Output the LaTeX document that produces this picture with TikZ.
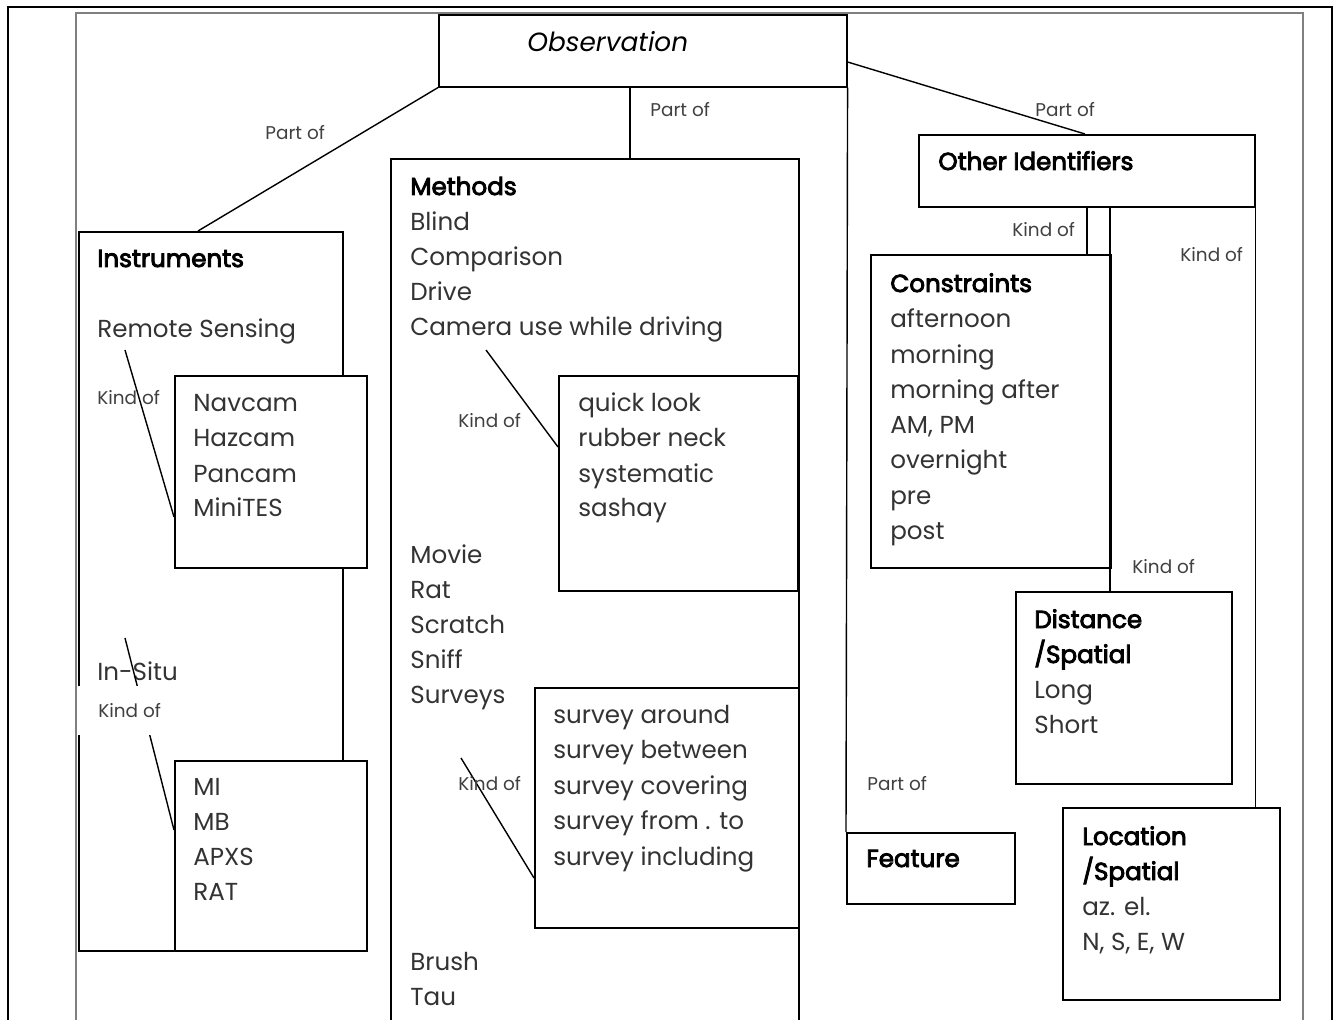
\documentclass[tikz,border=0pt]{standalone}
\usepackage{fontspec}
\setmainfont{Poppins}
\newfontfamily\headfont[FakeBold=3.5]{Poppins}
\usetikzlibrary{calc}

\tikzset{
  box/.style 2 args={draw, line width=0.9pt, fill=white, anchor=north west, inner sep=0pt,
    minimum width=#1*0.02cm, minimum height=#2*0.02cm},
  item/.style={anchor=base west, inner sep=0pt, text=black!80, font=\fontsize{14}{17}\selectfont},
  head/.style={item, text=black, font=\fontsize{14}{17}\selectfont\headfont},
  rel/.style={anchor=base west, inner sep=0pt, text=black!75, font=\fontsize{10.5}{12}\selectfont},
  link/.style={line width=0.8pt},
}

\begin{document}
\begin{tikzpicture}[x=0.02cm, y=-0.02cm]
  \useasboundingbox (0,0) rectangle (1339,1020);
  % page frames
  \draw[gray, line width=0.6pt] (76,1030) -- (76,13) -- (1303,13) -- (1303,1030);
  \draw[line width=1.6pt] (8,1030) -- (8,7) -- (1332,7) -- (1332,1030);

  % main boxes
  \node[box={408}{72}] (obs) at (438,14) {};
  \node[box={408}{880}] (meth) at (390,158) {};
  \node[box={264}{719}] (inst) at (78,231) {};
  \node[box={336}{72}] (oi) at (918,134) {};
  \node[box={240}{313}] (cons) at (870,254) {};
  \node[box={216}{192}] (dist) at (1015,591) {};
  \node[box={217}{192}] (loc) at (1062,807) {};
  \node[box={168}{71}] (feat) at (846,832) {};

  % part of
  \draw[link] (obs.south west) -- ($(inst.north west)+(120,0)$);
  \coordinate (obsm) at ($(obs.south west)+(192,0)$);
  \draw[link] (obsm) -- (obsm |- meth.north);
  \draw[link] ($(obs.north east)+(0,48)$) -- ($(oi.north west)+(167,0)$);
  \draw[link] (obs.south east) -- (feat.north west);

  % kind of
  \coordinate (oia) at ($(oi.south west)+(169,0)$);
  \coordinate (oib) at ($(oi.south west)+(192,0)$);
  \draw[link] (oia) -- (oia |- cons.north);
  \draw[link] (oib) -- (oib |- dist.north);
  \draw[link] (oi.south east) -- (oi.south east |- loc.north);

  % instruments
  \node[head] (insth) at (97,267) {Instruments};
  \node[item] (rs) at (97,338) {Remote Sensing};
  \node[item] (insitu) at (97,680) {In-Situ};
  \node[box={192}{192}] (nav) at (174,375) {};
  \node[box={192}{190}] (mi) at (174,760) {};
  \draw[link] ($(rs.base west)+(28,12)$) -- ($(nav.north west)+(0,142)$);
  \draw[link] ($(insitu.base west)+(28,-42)$) -- ($(mi.north west)+(0,70)$);
  \fill[white] (77,686) rectangle (160,735);
  \foreach \t [count=\i from 0] in {Navcam,Hazcam,Pancam,MiniTES}
    \node[item] (nav\i) at (193,412+35*\i) {\t};
  \foreach \t [count=\i from 0] in {MI,MB,APXS,RAT}
    \node[item] (mi\i) at (193,795+35*\i) {\t};

  % methods
  \node[head] (methh) at (410,195) {Methods};
  \foreach \t [count=\i from 0] in {Blind,Comparison,Drive,Camera use while driving}
    \node[item] (ma\i) at (410,231+35*\i) {\t};
  \foreach \t [count=\i from 0] in {Movie,Rat,Scratch,Sniff,Surveys}
    \node[item] (mb\i) at (410,563+35*\i) {\t};
  \node[item] (mc0) at (410,970) {Brush};
  \node[item] (mc1) at (410,1005) {Tau};
  \node[box={239}{215}] (quick) at (558,375) {};
  \node[box={264}{240}] (surv) at (534,687) {};
  \draw[link] ($(ma3.base west)+(76,14)$) -- ($(quick.north west)+(0,72)$);
  \draw[link] ($(mb4.base west)+(51,55)$) -- ($(surv.north west)+(0,191)$);
  \foreach \t [count=\i from 0] in {quick look,rubber neck,systematic,sashay}
    \node[item] (q\i) at (578,412+35*\i) {\t};
  \foreach \t [count=\i from 0] in {survey around,survey between,survey covering,survey from . to,survey including}
    \node[item] (s\i) at (553,723+35.5*\i) {\t};

  % right side
  \node[font=\fontsize{15}{18}\selectfont\itshape, anchor=base west, inner sep=0pt] (obsl) at (527,52) {Observation};
  \node[head] (oil) at (938,170) {Other Identifiers};
  \node[head] (consh) at (890,292) {Constraints};
  \foreach \t [count=\i from 0] in {afternoon,morning,morning after,{AM, PM},overnight,pre,post}
    \node[item] (c\i) at (890,328+35.2*\i) {\t};
  \node[head] (disth) at (1034,628) {Distance};
  \node[head] (dists) at (1034,663) {/Spatial};
  \node[item] (d0) at (1034,698) {Long};
  \node[item] (d1) at (1034,733) {Short};
  \node[head] (loch) at (1082,845) {Location};
  \node[head] (locs) at (1082,880) {/Spatial};
  \node[item] (l0) at (1082,915) {az. el.};
  \node[item] (l1) at (1082,950) {N, S, E, W};
  \node[head] (featl) at (866,867) {Feature};

  % relation labels
  \node[rel] (p1) at (265,140) {Part of};
  \node[rel] (p2) at (650,117) {Part of};
  \node[rel] (p3) at (1035,117) {Part of};
  \node[rel] (p4) at (867,790) {Part of};
  \node[rel] (k1) at (1012,237) {Kind of};
  \node[rel] (k2) at (1180,262) {Kind of};
  \node[rel] (k3) at (1132,573) {Kind of};
  \node[rel] (k4) at (97,405) {Kind of};
  \node[rel] (k5) at (98,717) {Kind of};
  \node[rel] (k6) at (458,428) {Kind of};
  \node[rel] (k7) at (458,790) {Kind of};
\end{tikzpicture}
\end{document}
